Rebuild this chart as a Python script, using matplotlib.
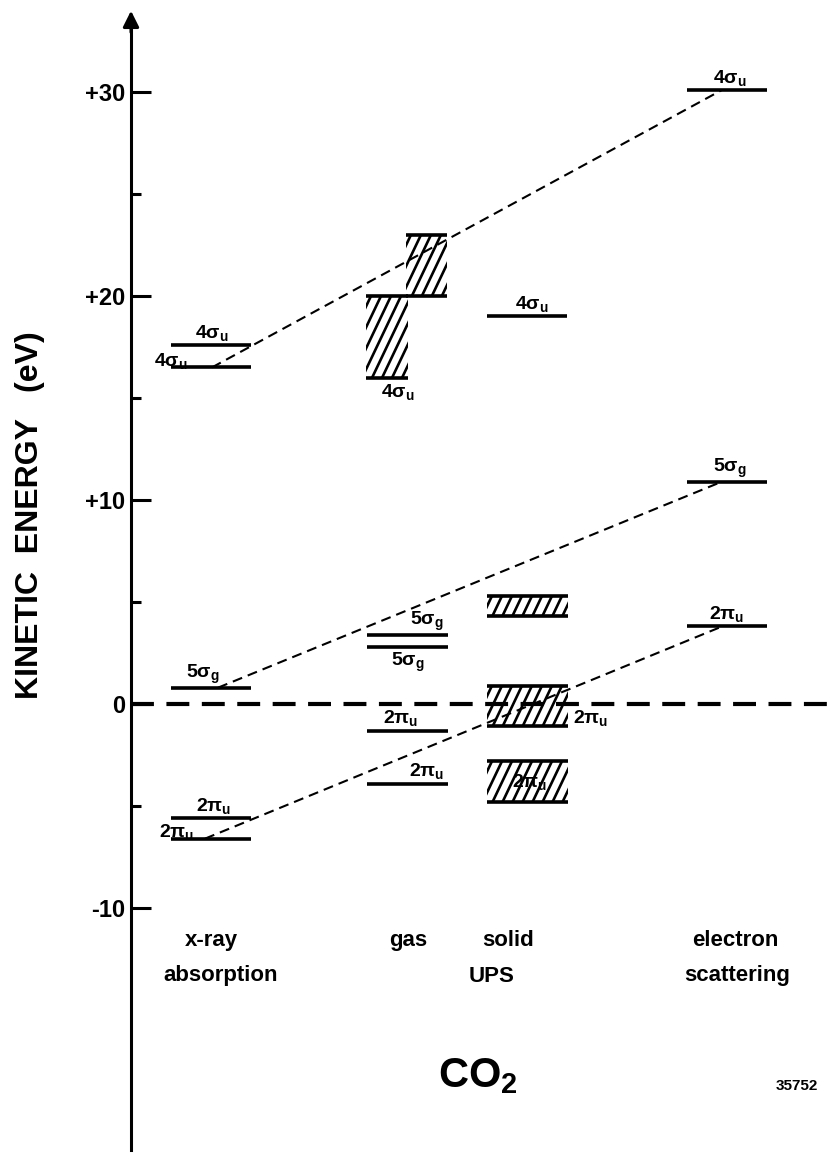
import numpy as np
import matplotlib.pyplot as plt
from matplotlib.patches import Rectangle
from matplotlib.ticker import FixedLocator, FixedFormatter

plt.rcParams['font.family'] = ['Liberation Sans', 'DejaVu Sans']
plt.rcParams['font.weight'] = 'bold'
plt.rcParams['mathtext.fontset'] = 'custom'
plt.rcParams['mathtext.rm'] = 'Liberation Sans:bold'
plt.rcParams['mathtext.it'] = 'Liberation Sans:bold'
plt.rcParams['mathtext.bf'] = 'Liberation Sans:bold'

S4, S5, P2 = r'$4\sigma_u$', r'$5\sigma_g$', r'$2\pi_u$'

# kinetic energies (eV)
xray_E = [17.6, 16.5, 0.8, -5.6, -6.6]
xray_lab = [S4, S4, S5, P2, P2]
gas_E = [3.4, 2.8, -1.3, -3.9]
gas_lab = [S5, S5, P2, P2]
gas_bands = [(20.0, 23.0), (16.0, 20.0)]
solid_E = [19.0]
solid_lab = [S4]
solid_bands = [(4.3, 5.3), (-1.1, 0.9), (-4.8, -2.8)]
solid_band_lab = [None, P2, P2]
escat_E = [30.1, 10.9, 3.8]
escat_lab = [S4, S5, P2]

yticks = [-10, 0, 10, 20, 30]
ytick_labels = ['-10', '0', '+10', '+20', '+30']
yminor = [-5, 5, 15, 25]

# dashed links: (x-ray level index, electron scattering level index)
links = [(1, 0), (2, 1), (4, 2)]

# ---- layout (pixels of the 831x1159 picture) ----
W, H = 831, 1159
axis_x = 131
px_per_eV = 20.4
zero_px = 704
col_w = 80
xray_x0, gas_x0, solid_x0, escat_x0 = 171, 367, 487, 687
gas_band_x = [(406, 447), (366, 408)]
link_x0 = [212, 218, 205]
link_x1 = 722

xray_lab_pos = [(212, 'above'), (171, 'on'), (203, 'above'), (214, 'above'), (177, 'on')]
gas_lab_pos = [(427, 'above'), (408, 'below'), (401, 'above'), (427, 'above')]
gas_band_lab_pos = (398, 'below')
solid_lab_pos = [(532, 'above')]
solid_band_lab_pos = [None, (573, 'right'), (530, 'inside')]
escat_lab_pos = [(730, 'above'), (730, 'above'), (727, 'above')]

fig = plt.figure(figsize=(W / 100, H / 100), dpi=100)
ax = fig.add_axes([axis_x / W, 0, 1 - axis_x / W, 1])
ax.set_xlim(axis_x, W)
ax.set_ylim((zero_px - H) / px_per_eV, zero_px / px_per_eV)

for side in ['top', 'right', 'bottom']:
    ax.spines[side].set_visible(False)
ax.spines['left'].set_linewidth(2.2)
ax.spines['left'].set_bounds((zero_px - 1150) / px_per_eV, (zero_px - 30) / px_per_eV)
ax.annotate('', xy=(axis_x, (zero_px - 8) / px_per_eV), xytext=(axis_x, (zero_px - 35) / px_per_eV),
            arrowprops=dict(arrowstyle='-|>', color='k', lw=2.2, mutation_scale=24),
            annotation_clip=False)

ax.yaxis.set_major_locator(FixedLocator(yticks))
ax.yaxis.set_major_formatter(FixedFormatter(ytick_labels))
ax.yaxis.set_minor_locator(FixedLocator(yminor))
ax.tick_params(axis='y', which='major', direction='in', length=14.5, width=2.2, labelsize=17, pad=4)
ax.tick_params(axis='y', which='minor', direction='in', length=7.5, width=2.2)
ax.tick_params(axis='x', bottom=False, labelbottom=False)

# zero of kinetic energy
ax.axhline(0, color='k', lw=3, dashes=(5.5, 3.0))


def label(x, E, text, where):
    if where == 'above':
        ax.annotate(text, (x, E), xytext=(0, 1.5), textcoords='offset points',
                    ha='center', va='bottom', fontsize=14)
    elif where == 'on':
        ax.annotate(text, (x, E), xytext=(0, -2.5), textcoords='offset points',
                    ha='center', va='bottom', fontsize=14)
    elif where == 'below':
        ax.annotate(text, (x, E), xytext=(0, -3), textcoords='offset points',
                    ha='center', va='top', fontsize=14)
    elif where == 'right':
        ax.text(x, E, text, ha='left', va='center', fontsize=14)
    else:
        ax.text(x, E, text, ha='center', va='center', fontsize=14)


def level(x0, E, w=col_w):
    ax.plot([x0, x0 + w], [E, E], color='k', lw=2.6, solid_capstyle='butt')


def band(x0, x1, lo, hi, step=10, slope=2.1):
    # steep hand-drawn style hatching clipped to the band
    box = Rectangle((x0, lo), x1 - x0, hi - lo, facecolor='none', edgecolor='none')
    ax.add_patch(box)
    run = (hi - lo) * px_per_eV / slope
    for xs in np.arange(x0 - run + step / 2, x1, step):
        ln, = ax.plot([xs, xs + run], [lo, hi], color='k', lw=1.9)
        ln.set_clip_path(box)
    level(x0, lo, x1 - x0)
    level(x0, hi, x1 - x0)


# x-ray absorption
for E, lab, (lx, where) in zip(xray_E, xray_lab, xray_lab_pos):
    level(xray_x0, E)
    label(lx, E, lab, where)

# gas UPS
for (lo, hi), (x0, x1) in zip(gas_bands, gas_band_x):
    band(x0, x1, lo, hi)
label(gas_band_lab_pos[0], gas_bands[1][0], S4, gas_band_lab_pos[1])
for E, lab, (lx, where) in zip(gas_E, gas_lab, gas_lab_pos):
    level(gas_x0, E, 81)
    label(lx, E, lab, where)

# solid UPS
for E, lab, (lx, where) in zip(solid_E, solid_lab, solid_lab_pos):
    level(solid_x0, E)
    label(lx, E, lab, where)
for (lo, hi), lab, pos in zip(solid_bands, solid_band_lab, solid_band_lab_pos):
    band(solid_x0, solid_x0 + 81, lo, hi)
    if lab:
        if pos[1] == 'right':
            label(pos[0], lo + 0.2 * (hi - lo), lab, 'right')
        else:
            label(pos[0], (lo + hi) / 2, lab, 'inside')

# electron scattering
for E, lab, (lx, where) in zip(escat_E, escat_lab, escat_lab_pos):
    level(escat_x0, E)
    label(lx, E, lab, where)

# correlation lines
for (i, j), x0 in zip(links, link_x0):
    ax.plot([x0, link_x1], [xray_E[i], escat_E[j]], color='k', lw=1.5, dashes=(4.8, 2.9))

# column captions
fs = 16
def caption(x, y, s, size=fs, **kw):
    ax.text(x, (zero_px - y) / px_per_eV, s, ha='center', va='center', fontsize=size, **kw)

caption(211, 940, 'x-ray')
caption(221, 976, 'absorption')
caption(408, 940, 'gas')
caption(508, 940, 'solid')
caption(492, 976, 'UPS')
caption(735, 940, 'electron')
caption(737, 976, 'scattering')
caption(478, 1076, r'CO$_2$', size=30)
caption(797, 1086, '35752', size=11)

fig.text(30 / W, 1 - 515 / H, 'KINETIC  ENERGY   (eV)', rotation=90, ha='center', va='center',
         fontsize=23)

fig.savefig('out.png', dpi=100)
